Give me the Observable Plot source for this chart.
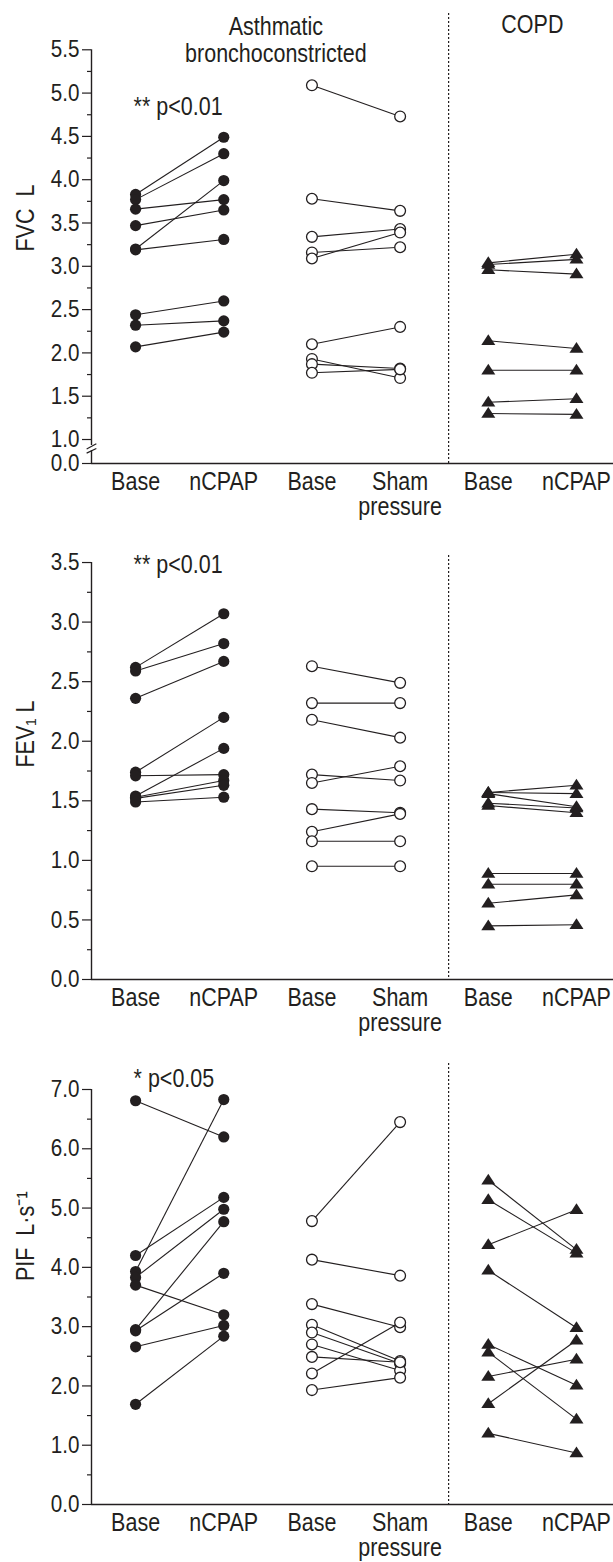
<!DOCTYPE html>
<html><head><meta charset="utf-8">
<script src="https://cdn.jsdelivr.net/npm/d3@7"></script>
<script src="https://cdn.jsdelivr.net/npm/@observablehq/plot@0.6"></script>
<style>
body{margin:0;background:#fff;}
#chart svg{display:block;}
</style></head><body><div id="chart"></div>
<script>
// ---- categories / labels ----
const columns = ["aBase","aCpap","sBase","sSham","cBase","cCpap"];
const columnLabels = ["Base","nCPAP","Base","Sham\npressure","Base","nCPAP"];
const groupTitles = ["Asthmatic\nbronchoconstricted","COPD"];
const notes = ["** p<0.01","** p<0.01","* p<0.05"];
const yTitles = ["FVC\u00a0\u00a0L","FEV\u2081\u00a0L","PIF\u00a0\u00a0L\u00b7s\u207b\u00b9"];

// ---- FVC (L) ----
const fvcAsthBase = [3.83,3.77,3.66,3.47,3.20,3.19,2.44,2.32,2.07];
const fvcAsthCpap = [4.49,4.30,3.77,3.65,3.99,3.31,2.60,2.37,2.24];
const fvcShamBase = [5.09,3.78,3.34,3.16,3.09,2.10,1.93,1.87,1.77];
const fvcShamSham = [4.73,3.64,3.43,3.22,3.39,2.30,1.71,1.82,1.81];
const fvcCopdBase = [3.04,3.02,2.96,2.14,1.80,1.43,1.30];
const fvcCopdCpap = [3.14,3.08,2.91,2.05,1.80,1.47,1.29];
const fvcTicks = [1.0,1.5,2.0,2.5,3.0,3.5,4.0,4.5,5.0,5.5];
const fvcMinor = [1.25,1.75,2.25,2.75,3.25,3.75,4.25,4.75,5.25];

// ---- FEV1 (L) ----
const fevAsthBase = [2.62,2.59,2.36,1.74,1.71,1.54,1.53,1.52,1.49];
const fevAsthCpap = [3.07,2.82,2.67,2.20,1.72,1.94,1.67,1.63,1.53];
const fevShamBase = [2.63,2.32,2.18,1.72,1.65,1.43,1.24,1.16,0.95];
const fevShamSham = [2.49,2.32,2.03,1.67,1.79,1.40,1.39,1.16,0.95];
const fevCopdBase = [1.57,1.57,1.56,1.48,1.46,0.89,0.80,0.64,0.45];
const fevCopdCpap = [1.63,1.56,1.45,1.44,1.40,0.89,0.80,0.71,0.46];
const fevTicks = [0,0.5,1.0,1.5,2.0,2.5,3.0,3.5];
const fevMinor = [0.25,0.75,1.25,1.75,2.25,2.75,3.25];

// ---- PIF (L/s) ----
const pifAsthBase = [6.81,4.20,3.93,3.83,3.70,2.95,2.93,2.66,1.69];
const pifAsthCpap = [6.20,5.18,6.83,4.98,3.20,4.77,3.90,3.02,2.84];
const pifShamBase = [4.78,4.13,3.38,3.03,2.90,2.70,2.49,2.21,1.93];
const pifShamSham = [6.45,3.86,2.99,2.42,2.38,2.26,2.40,3.07,2.14];
const pifCopdBase = [5.47,5.14,4.38,3.95,2.70,2.57,2.16,1.70,1.20];
const pifCopdCpap = [4.30,4.24,4.97,2.98,2.01,1.44,2.45,2.77,0.87];
const pifTicks = [0,1,2,3,4,5,6,7];
const pifMinor = [0.5,1.5,2.5,3.5,4.5,5.5,6.5];

// ---- rendering ----
const ink = "#231f20";
const FONT = "'Liberation Sans',Arial,sans-serif";
const FS = 25;
const NARROW = 0.86;
const xDomain = [-0.5, 5.42];
const separatorAt = 3.55;
const wideTriangle = {
  draw(ctx, size) {
    const r = Math.sqrt(size / Math.PI);
    ctx.moveTo(0, -1.3 * r);
    ctx.lineTo(1.4 * r, 0.85 * r);
    ctx.lineTo(-1.4 * r, 0.85 * r);
    ctx.closePath();
  }
};

// horizontally condense every text around its own anchor (the reference uses a condensed face)
function condense(svg) {
  d3.select(svg).selectAll("text").each(function () {
    let x = parseFloat(this.getAttribute("x"));
    if (!isFinite(x)) x = 0;
    const t = this.getAttribute("transform") || "";
    this.setAttribute("transform", `${t} translate(${x},0) scale(${NARROW},1) translate(${-x},0)`.trim());
  });
  return svg;
}

function panel(o) {
  const rows = [], pts = [];
  o.groups.forEach(g => {
    g.before.forEach((v, k) => {
      rows.push({i0: g.cols[0], i1: g.cols[1], v0: v, v1: g.after[k]});
      pts.push({i: g.cols[0], v, kind: g.kind});
      pts.push({i: g.cols[1], v: g.after[k], kind: g.kind});
    });
  });
  const bottom = o.yDomain[0];
  const topTick = o.yTicks[o.yTicks.length - 1];
  const axisSegs = o.broken ? [[bottom, o.broken[0]], [o.broken[1], topTick]] : [[bottom, topTick]];
  const marks = [
    Plot.ruleX([separatorAt], {stroke: ink, strokeWidth: 1.2, strokeDasharray: "2,2"}),
    Plot.ruleY([bottom], {stroke: ink, strokeWidth: 1.4}),
    Plot.ruleX(axisSegs, {x: -0.5, y1: d => d[0], y2: d => d[1], stroke: ink, strokeWidth: 1.4}),
    Plot.axisY({ticks: o.yTicks, tickSize: 9, tickPadding: 3, tickFormat: o.tickFormat, label: null, color: ink, fontSize: 24, strokeWidth: 1.2}),
    Plot.axisY({ticks: o.yMinor, tickSize: 4, tickFormat: () => "", label: null, color: ink, strokeWidth: 1.2}),
    Plot.link(rows, {x1: "i0", x2: "i1", y1: "v0", y2: "v1", stroke: ink, strokeWidth: 1.1}),
    Plot.dot(pts.filter(d => d.kind === "filled"), {x: "i", y: "v", r: 5.6, fill: ink}),
    Plot.dot(pts.filter(d => d.kind === "open"), {x: "i", y: "v", r: 5.4, fill: "white", stroke: ink, strokeWidth: 1.3}),
    Plot.dot(pts.filter(d => d.kind === "tri"), {x: "i", y: "v", r: 5, symbol: wideTriangle, fill: ink}),
    Plot.text(columns.map((c, i) => i), {x: d => d, y: bottom, text: d => columnLabels[d], lineAnchor: "top", dy: 9, lineHeight: 1.0, fontSize: FS, fill: ink}),
    Plot.text([o.note], {x: 0, frameAnchor: "top", text: d => d, textAnchor: "start", lineAnchor: "top", dx: -2, dy: o.noteDy, fontSize: FS, fill: ink}),
    Plot.text([o.yTitle], {frameAnchor: "left", text: d => d, rotate: -90, dx: -66, dy: o.titleDy, fontSize: FS, fill: ink})
  ];
  if (o.broken) {
    const bx = 0.055, mid = (o.broken[0] + o.broken[1]) / 2, h = (o.broken[1] - o.broken[0]) / 2;
    marks.push(Plot.link([[mid - h * 0.3, mid + h * 1.7], [mid - h * 1.9, mid - h * 0.1]],
      {x1: -0.5 - bx, x2: -0.5 + bx, y1: d => d[0], y2: d => d[1], stroke: ink, strokeWidth: 1.2}));
  }
  if (o.showTitles) {
    const asthCenter = d3.mean([0, 1, 2, 3]), copdCenter = d3.mean([4, 5]);
    marks.push(Plot.text([groupTitles[0]], {x: asthCenter, frameAnchor: "top", text: d => d, lineAnchor: "top", dx: 8, dy: 2, lineHeight: 1.08, fontSize: FS, fill: ink}));
    marks.push(Plot.text([groupTitles[1]], {x: copdCenter, frameAnchor: "top", text: d => d, lineAnchor: "top", dy: 2, fontSize: FS, fill: ink}));
  }
  return condense(Plot.plot({
    width: 613, height: o.height,
    marginLeft: 91, marginRight: 0, marginTop: o.marginTop, marginBottom: o.marginBottom,
    style: {fontFamily: FONT, fontSize: FS + "px", color: ink, background: "white"},
    x: {type: "linear", domain: xDomain, axis: null},
    y: {type: "linear", domain: o.yDomain, label: null, axis: null},
    marks
  }));
}

const groupsOf = (a, b, c, d, e, f) => [
  {cols: [0, 1], before: a, after: b, kind: "filled"},
  {cols: [2, 3], before: c, after: d, kind: "open"},
  {cols: [4, 5], before: e, after: f, kind: "tri"}
];

const fvcBottom = 0.723;
const chart = document.getElementById("chart");
chart.append(panel({
  groups: groupsOf(fvcAsthBase, fvcAsthCpap, fvcShamBase, fvcShamSham, fvcCopdBase, fvcCopdCpap),
  yDomain: [fvcBottom, 5.919], yTicks: [fvcBottom, ...fvcTicks], yMinor: fvcMinor,
  tickFormat: d => d === fvcBottom ? "0.0" : d.toFixed(1),
  broken: [0.87, 0.93],
  note: notes[0], noteDy: 84, yTitle: yTitles[0], titleDy: 13,
  height: 525, marginTop: 13, marginBottom: 62, showTitles: true
}));
chart.append(panel({
  groups: groupsOf(fevAsthBase, fevAsthCpap, fevShamBase, fevShamSham, fevCopdBase, fevCopdCpap),
  yDomain: [0, 3.559], yTicks: fevTicks, yMinor: fevMinor,
  tickFormat: d => d.toFixed(1),
  note: notes[1], noteDy: 0, yTitle: yTitles[1], titleDy: 0,
  height: 515, marginTop: 30, marginBottom: 61
}));
chart.append(panel({
  groups: groupsOf(pifAsthBase, pifAsthCpap, pifShamBase, pifShamSham, pifCopdBase, pifCopdCpap),
  yDomain: [0, 7.4385], yTicks: pifTicks, yMinor: pifMinor,
  tickFormat: d => d.toFixed(1),
  note: notes[2], noteDy: 6, yTitle: yTitles[2], titleDy: -3,
  height: 522, marginTop: 23, marginBottom: 58
}));
</script></body></html>
